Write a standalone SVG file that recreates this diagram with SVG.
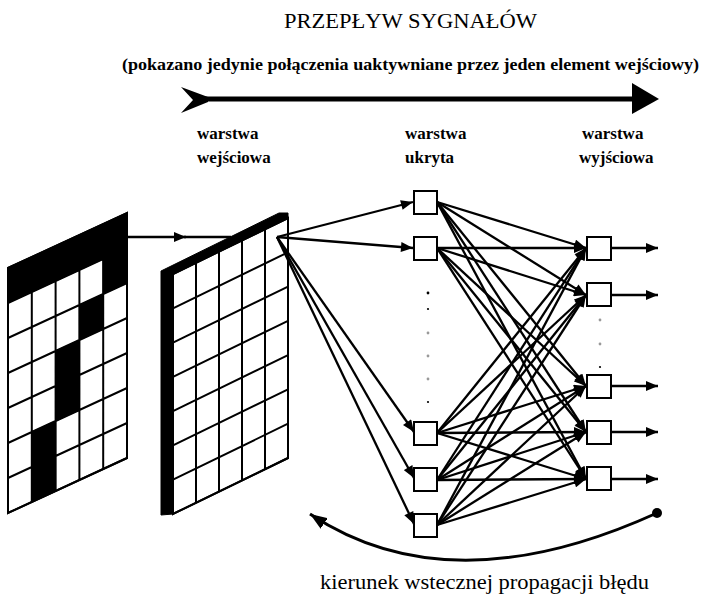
<svg xmlns="http://www.w3.org/2000/svg" width="702" height="597" viewBox="0 0 702 597">
<style>
.t{font-family:"Liberation Serif","Times New Roman",serif;fill:#000}
.b{font-weight:bold}
.grid{fill:none;stroke:#000;stroke-width:2;stroke-linejoin:miter}
.cell{fill:#fff;stroke:#000;stroke-width:2}
.blk{fill:#000;stroke:#000;stroke-width:1}
.node{fill:#fff;stroke:#000;stroke-width:2}
.ln{fill:none;stroke:#000;stroke-width:2.3}
.dot{fill:#000}
.gdot{fill:#999}
</style>
<defs>
<marker id="ah" viewBox="0 0 12 10" refX="12" refY="5" markerUnits="userSpaceOnUse" markerWidth="13" markerHeight="10" orient="auto">
<path d="M0,0 L12,5 L0,10 z" fill="#000"/>
</marker>
<marker id="ahb" viewBox="0 0 16 12" refX="16" refY="6" markerUnits="userSpaceOnUse" markerWidth="17" markerHeight="13" orient="auto">
<path d="M0,0 L16,6 L0,12 z" fill="#000"/>
</marker>
</defs>

<rect width="702" height="597" fill="#fff"/>

<!-- titles -->
<text class="t" x="284" y="28" font-size="21" textLength="253" lengthAdjust="spacingAndGlyphs">PRZEPŁYW SYGNAŁÓW</text>
<text class="t b" x="122" y="70" font-size="17" textLength="577" lengthAdjust="spacingAndGlyphs">(pokazano jedynie połączenia uaktywniane przez jeden element wejściowy)</text>

<!-- signal flow arrow -->
<g id="flow-arrow">
<line x1="198" y1="99" x2="636" y2="99" stroke="#000" stroke-width="5"/>
<polygon points="181,87 208,97 208,102 181,113 193,100" fill="#000"/>
<polygon points="632,83 659,99 632,114" fill="#000"/>
</g>

<!-- layer labels -->
<g id="label-input"><text class="t b" font-size="17"><tspan x="197" y="139">warstwa</tspan><tspan x="197" y="163">wejściowa</tspan></text></g>
<g id="label-hidden"><text class="t b" font-size="17"><tspan x="405" y="139">warstwa</tspan><tspan x="405" y="163">ukryta</tspan></text></g>
<g id="label-output"><text class="t b" font-size="17"><tspan x="582" y="139">warstwa</tspan><tspan x="579" y="163">wyjściowa</tspan></text></g>

<!-- input pattern (digit 7) -->
<g id="input-pattern">
<polygon class="cell" points="8,268 127,213 127,458 8,513"/>
<polygon class="blk" points="8,268 127,213 127,248 8,303"/>
<polygon class="blk" points="103.2,259 127,248 127,283 103.2,294"/>
<polygon class="blk" points="79.4,305 103.2,294 103.2,329 79.4,340"/>
<polygon class="blk" points="55.6,351 79.4,340 79.4,410 55.6,421"/>
<polygon class="blk" points="31.8,432 55.6,421 55.6,491 31.8,502"/>
<path class="grid" d="M31.8,257 V502 M55.6,246 V491 M79.4,235 V480 M103.2,224 V469
M8,303 L127,248 M8,338 L127,283 M8,373 L127,318 M8,408 L127,353 M8,443 L127,388 M8,478 L127,423"/>
<polygon class="grid" points="8,268 127,213 127,458 8,513"/>
</g>

<!-- input layer slab -->
<g id="input-layer">
<polygon class="blk" points="161,271 279,213 288,213 288,458 173,514 161,515"/>
<polygon class="cell" points="173,274 288,218 288,458 173,514"/>
<path class="grid" d="M196,263 V503 M219,252 V492 M242,240 V480 M265,229 V469
M173,308.3 L288,252.3 M173,342.6 L288,286.6 M173,376.9 L288,320.9 M173,411.1 L288,355.1 M173,445.4 L288,389.4 M173,479.7 L288,423.7"/>
<polygon class="grid" points="173,274 288,218 288,458 173,514"/>
</g>

<!-- connectors -->
<g id="connectors">
<path class="ln" d="M127,237 H186" marker-end="url(#ah)"/>
<path class="ln" d="M184,237 H231"/>
<!-- input to hidden -->
<path class="ln" d="M277,237 L413,202" marker-end="url(#ah)"/>
<path class="ln" d="M277,237 L413,248" marker-end="url(#ah)"/>
<path class="ln" d="M277,237 L414,432" marker-end="url(#ah)"/>
<path class="ln" d="M277,237 L414,478" marker-end="url(#ah)"/>
<path class="ln" d="M277,237 L414,524" marker-end="url(#ah)"/>
<!-- hidden to output -->
<g marker-end="url(#ah)">
<path class="ln" d="M437,202 L586,248"/>
<path class="ln" d="M437,202 L586,295"/>
<path class="ln" d="M437,202 L586,386"/>
<path class="ln" d="M437,202 L586,432"/>
<path class="ln" d="M437,202 L586,479"/>
<path class="ln" d="M437,248 L586,248"/>
<path class="ln" d="M437,248 L586,295"/>
<path class="ln" d="M437,248 L586,386"/>
<path class="ln" d="M437,248 L586,432"/>
<path class="ln" d="M437,248 L586,479"/>
<path class="ln" d="M437,433 L586,248"/>
<path class="ln" d="M437,433 L586,295"/>
<path class="ln" d="M437,433 L586,386"/>
<path class="ln" d="M437,433 L586,432"/>
<path class="ln" d="M437,433 L586,479"/>
<path class="ln" d="M437,480 L586,248"/>
<path class="ln" d="M437,480 L586,295"/>
<path class="ln" d="M437,480 L586,386"/>
<path class="ln" d="M437,480 L586,432"/>
<path class="ln" d="M437,480 L586,479"/>
<path class="ln" d="M437,525 L586,248"/>
<path class="ln" d="M437,525 L586,295"/>
<path class="ln" d="M437,525 L586,386"/>
<path class="ln" d="M437,525 L586,432"/>
<path class="ln" d="M437,525 L586,479"/>
</g>
<!-- outputs -->
<g marker-end="url(#ah)">
<path class="ln" d="M611,248 H658"/>
<path class="ln" d="M611,295 H658"/>
<path class="ln" d="M611,386 H658"/>
<path class="ln" d="M611,432 H658"/>
<path class="ln" d="M611,479 H658"/>
</g>
<!-- backpropagation arc -->
<path d="M657,513 Q450,607 310,514" fill="none" stroke="#000" stroke-width="3" marker-end="url(#ahb)"/>
<circle cx="657" cy="513" r="5" fill="#000"/>
</g>

<!-- hidden nodes -->
<g id="h1"><rect class="node" x="414" y="191" width="23" height="23"/></g>
<g id="h2"><rect class="node" x="414" y="237" width="23" height="23"/></g>
<g id="h3"><rect class="node" x="414" y="422" width="23" height="23"/></g>
<g id="h4"><rect class="node" x="414" y="468" width="23" height="23"/></g>
<g id="h5"><rect class="node" x="414" y="514" width="23" height="23"/></g>
<g id="hidden-ellipsis">
<circle class="dot" cx="428" cy="293" r="1.4"/>
<circle class="dot" cx="428" cy="309" r="1.1"/>
<circle class="gdot" cx="428" cy="333" r="1.4"/>
<circle class="gdot" cx="428" cy="356" r="1.4"/>
<circle class="gdot" cx="428" cy="379" r="1.4"/>
<circle class="dot" cx="428" cy="402" r="1.1"/>
</g>

<!-- output nodes -->
<g id="o1"><rect class="node" x="587" y="237" width="24" height="23"/></g>
<g id="o2"><rect class="node" x="587" y="283" width="24" height="23"/></g>
<g id="o3"><rect class="node" x="587" y="375" width="24" height="23"/></g>
<g id="o4"><rect class="node" x="587" y="421" width="24" height="23"/></g>
<g id="o5"><rect class="node" x="587" y="467" width="24" height="23"/></g>
<g id="output-ellipsis">
<circle class="gdot" cx="600" cy="320" r="1.4"/>
<circle class="gdot" cx="600" cy="344" r="1.4"/>
<circle class="dot" cx="600" cy="367" r="1.1"/>
</g>

<text class="t" x="320" y="589" font-size="22" textLength="329" lengthAdjust="spacingAndGlyphs">kierunek wstecznej propagacji błędu</text>
</svg>
